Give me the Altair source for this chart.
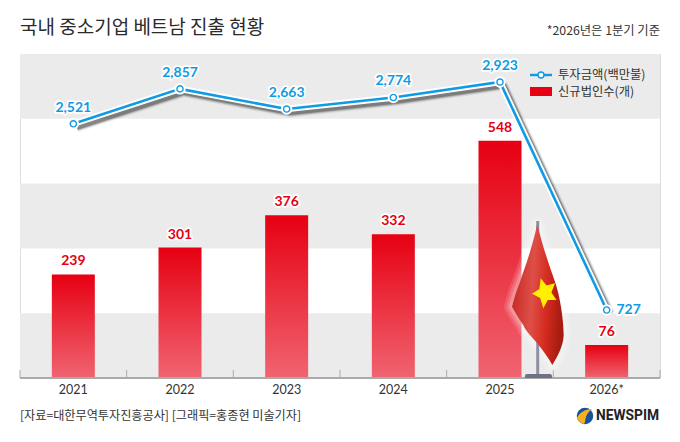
import altair as alt
import pandas as pd

years = ["2021", "2022", "2023", "2024", "2025", "2026*"]
invest = [2521, 2857, 2663, 2774, 2923, 727]
invest_labels = ["2,521", "2,857", "2,663", "2,774", "2,923", "727"]
firms = [239, 301, 376, 332, 548, 76]
band_low = [0, 299.2, 598.4]
band_high = [149.6, 448.8, 748]

FONT = "Noto Sans CJK KR"
NUM = "Lato"
BLUE = "#0f9be3"
RED = "#e60012"
W, H = 640, 324

df = pd.DataFrame({"year": years, "invest": invest, "ilabel": invest_labels, "firms": firms})
bands = pd.DataFrame({"lo": band_low, "hi": band_high})

xplain = alt.X("year:N", sort=years, axis=None,
               scale=alt.Scale(paddingInner=0, paddingOuter=0))
ybar = alt.Y("firms:Q", scale=alt.Scale(domain=[0, 748]), axis=None)
yline = alt.Y("invest:Q", scale=alt.Scale(domain=[72, 3193]), axis=None)

base = alt.Chart(df)

band_layer = alt.Chart(bands).mark_rect(color="#ebebeb").encode(
    x=alt.value(0), x2=alt.value(W),
    y=alt.Y("lo:Q", scale=alt.Scale(domain=[0, 748]), axis=None), y2="hi:Q")

bars = base.mark_bar(size=43, color=alt.LinearGradient(
    gradient="linear", x1=0, y1=0, x2=0, y2=1,
    stops=[alt.GradientStop(offset=0, color=RED),
           alt.GradientStop(offset=1, color="#f06471")])).encode(x=xplain, y=ybar)

baseline = base.mark_rule(color="#aaaaaa", strokeWidth=2).transform_filter(
    alt.datum.year == "2021").encode(x=alt.value(0), x2=alt.value(W), y=alt.value(H))
ticks_left = base.mark_rule(color="#aaaaaa", strokeWidth=1, xOffset=-53.33).encode(
    x=xplain, y=alt.value(H - 8), y2=alt.value(H))
ticks_right = base.mark_rule(color="#aaaaaa", strokeWidth=1, xOffset=53.33).transform_filter(
    alt.datum.year == "2026*").encode(x=xplain, y=alt.value(H - 8), y2=alt.value(H))
year_labels = base.mark_text(font=NUM, fontSize=12.5, color="#333333", baseline="middle").encode(
    x=xplain, y=alt.value(H + 12), text="year:N")

def halo_text(chart, field, color, size, **kw):
    enc = kw.pop("enc")
    under = chart.mark_text(font=NUM, fontSize=size, fontWeight="bold", stroke="white",
                            strokeWidth=3.5, strokeJoin="round", fill="white", **kw).encode(text=field, **enc)
    over = chart.mark_text(font=NUM, fontSize=size, fontWeight="bold", color=color, **kw).encode(text=field, **enc)
    return [under, over]

bar_labels = halo_text(base, "firms:Q", RED, 14, dy=-13, enc=dict(x=xplain, y=ybar))
line_labels = halo_text(base.transform_filter(alt.datum.year != "2026*"), "ilabel:N", BLUE, 14,
                        dy=-16, enc=dict(x=xplain, y=yline))
last_label = halo_text(base.transform_filter(alt.datum.year == "2026*"), "ilabel:N", BLUE, 14,
                       dx=22, enc=dict(x=xplain, y=yline))

shadows = [
    base.mark_line(color="#000000", strokeWidth=w, opacity=o, xOffset=3.5, yOffset=3.5, strokeJoin="round")
        .encode(x=xplain, y=yline)
    for w, o in [(10, 0.06), (8, 0.11), (6.5, 0.17), (5, 0.24)]
]
line_white = base.mark_line(color="white", strokeWidth=6.5, strokeJoin="miter").encode(x=xplain, y=yline)
line_blue = base.mark_line(color=BLUE, strokeWidth=2.6, strokeJoin="miter").encode(x=xplain, y=yline)
dots_white = base.mark_point(filled=True, color="white", size=130, opacity=1).encode(x=xplain, y=yline)
dots = base.mark_point(filled=True, fill="white", stroke=BLUE, strokeWidth=1.4, size=38, opacity=1).encode(x=xplain, y=yline)

# ---- decorative flag (page pixels -> path around an anchor) ----
AX, AY = 538, 294
def path_of(points):
    return "M" + " L".join(f"{x - AX:.1f},{y - AY:.1f}" for x, y in points) + " Z"

flag_path = ("M-0.7,-69.7 C4,-50 10,-32 17,-12.3 C22,2 25.5,25 25.7,41 "
             "C25.5,51 20,62 14.3,71 C10,63 6,58 2,52.7 C-4,45 -12,38 -14.7,31 "
             "C-19,25 -23,18 -26,12.7 C-24,4 -21,-5 -18,-12.3 C-14,-24 -11,-32 -8,-42.3 C-5,-52 -3,-60 -0.7,-69.7 Z")
outer = [(540.7, 278.3), (555, 283.3), (556.5, 300), (543.3, 308.3), (532, 293.7)]
cx, cy = 544.3, 293.5
star_pts = []
for i, (x, y) in enumerate(outer):
    star_pts.append((x, y))
    nx, ny = outer[(i + 1) % 5]
    mx, my = (x + nx) / 2, (y + ny) / 2
    star_pts.append((cx + (mx - cx) * 0.62, cy + (my - cy) * 0.62))
star_path = path_of(star_pts)

anchor = alt.Chart(pd.DataFrame({"a": [1]}))
apos = dict(x=alt.value(AX - 20), y=alt.value(AY - 54))
halo = [anchor.mark_point(shape=flag_path, size=4, filled=False, fill="white", fillOpacity=o,
                          stroke="white", strokeWidth=w, strokeOpacity=o, strokeJoin="round", opacity=1).encode(**apos)
        for w, o in [(16, 0.12), (11, 0.16), (6, 0.22)]]
pole = anchor.mark_rule(color="#8b90a3", strokeWidth=3).encode(
    x=alt.value(537.7 - 20), y=alt.value(221 - 54), y2=alt.value(376 - 54))
stand = anchor.mark_bar(color="#6d7288", cornerRadiusTopLeft=3, cornerRadiusTopRight=3).encode(
    x=alt.value(525 - 20), x2=alt.value(552 - 20), y=alt.value(374 - 54), y2=alt.value(H))
flag = anchor.mark_point(shape=flag_path, size=4, filled=True, opacity=1, strokeWidth=0,
    fill=alt.LinearGradient(gradient="linear", x1=0, y1=0, x2=1, y2=0.15, stops=[
        alt.GradientStop(offset=0, color="#c0241f"),
        alt.GradientStop(offset=0.45, color="#de4f47"),
        alt.GradientStop(offset=0.75, color="#d42a1e"),
        alt.GradientStop(offset=1, color="#a81d12")])).encode(**apos)
star = anchor.mark_point(shape=star_path, size=4, filled=True, color="#fff000", opacity=1, strokeWidth=0).encode(**apos)

# ---- page texts ----
def label(text, px, py, size, color="#333333", align="left", font=FONT, weight="normal"):
    return alt.Chart(pd.DataFrame({"t": [text]})).mark_text(
        font=font, fontSize=size, color=color, align=align, baseline="middle", fontWeight=weight
    ).encode(text="t:N", x=alt.value(px - 20), y=alt.value(py - 54))

title = label("국내 중소기업 베트남 진출 현황", 20, 28, 19, "#2a2a2a")
note = label("*2026년은 1분기 기준", 660, 31, 12.3, align="right")
source = label("[자료=대한무역투자진흥공사] [그래픽=홍종현 미술기자]", 20, 416, 12.15)
leg1 = label("투자금액(백만불)", 558, 75, 12.3)
leg2 = label("신규법인수(개)", 558, 92, 12.3)

leg_line = anchor.mark_rule(color=BLUE, strokeWidth=2.4).encode(
    x=alt.value(530 - 20), x2=alt.value(552 - 20), y=alt.value(75 - 54))
leg_dot = anchor.mark_point(filled=True, fill="white", stroke=BLUE, strokeWidth=1.4, size=36, opacity=1).encode(
    x=alt.value(541 - 20), y=alt.value(75 - 54))
leg_bar = anchor.mark_bar(color=RED).encode(
    x=alt.value(530 - 20), x2=alt.value(552 - 20), y=alt.value(87 - 54), y2=alt.value(96 - 54))

# ---- logo ----
lpos = dict(x=alt.value(585 - 20), y=alt.value(416 - 54))
logo_blue = anchor.mark_point(shape="circle", size=272, filled=True, color="#17539c", opacity=1).encode(**lpos)
logo_yellow = anchor.mark_point(shape="M-8,2 C-6,-3 0,-7 7,-7 C3,-4 1,-1 0.5,3 C0,5 0,7 -1,8 C-5,7 -7,5 -8,2 Z",
                                size=4, filled=True, color="#f5b21c", opacity=1, strokeWidth=0).encode(**lpos)
logo_text = label("NEWSPIM", 596, 416, 13.8, "#222222", font="Roboto", weight="bold")

chart = alt.layer(
    band_layer, bars, baseline, ticks_left, ticks_right, year_labels,
    *halo, pole, stand, flag, star,
    *shadows, line_white, line_blue, dots_white, dots,
    *bar_labels, *line_labels, *last_label,
    title, note, source, leg_line, leg_dot, leg_bar, leg1, leg2,
    logo_blue, logo_yellow, logo_text,
).resolve_scale(y="independent").properties(
    width=W, height=H,
    autosize=alt.AutoSizeParams(type="none"),
    padding={"left": 12, "top": 46, "right": 12, "bottom": 56},
).configure_view(stroke=None).configure(background="white")

chart.save("out.html", embed_options={"renderer": "svg", "actions": False})
